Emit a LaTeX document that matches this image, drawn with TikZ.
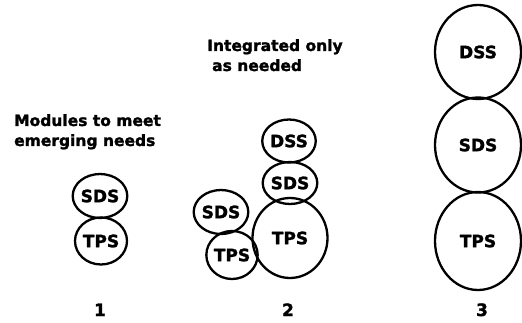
\documentclass[tikz,border=0pt]{standalone}
\usepackage{fontspec}
\setmainfont{DejaVu Sans}
\newfontfamily\heavyfont[FakeBold=1.6]{DejaVu Sans Bold}
\usetikzlibrary{shapes.geometric}
\tikzset{
  module/.style={draw=black, line width=2.3pt, ellipse, inner sep=0pt,
    font=\heavyfont\fontsize{17}{18}\selectfont},
  caption/.style={anchor=base west, inner sep=0pt,
    font=\heavyfont\fontsize{15.5}{18}\selectfont},
  stage/.style={anchor=base, inner sep=0pt,
    font=\heavyfont\fontsize{17}{20}\selectfont}
}
\begin{document}
\begin{tikzpicture}[x=1pt, y=-1pt]
\useasboundingbox (0,0) rectangle (522,323);

% stage 1: a single stack of two modules
\node[caption] (c1a) at (14,126) {Modules to meet};
\node[caption] (c1b) at (14,146) {emerging needs};
\node[module, minimum width=49pt, minimum height=44pt] (s1sds) at (100,196) {SDS};
\node[module, minimum width=52pt, minimum height=47pt] (s1tps) at (101,241) {TPS};
\node[stage] (n1) at (100,316) {1};

% stage 2: modules integrated only where needed
\node[caption] (c2a) at (207,51) {Integrated only};
\node[caption] (c2b) at (212,71) {as needed};
\node[module, minimum width=48pt, minimum height=43pt] (s2dss) at (289,141) {DSS};
\node[module, minimum width=50pt, minimum height=42pt] (s2sds) at (290,183) {SDS};
\node[module, minimum width=75pt, minimum height=80pt] (s2tps) at (290,238) {TPS};
\node[module, minimum width=52pt, minimum height=44pt] (s2sdsb) at (221,212) {SDS};
\node[module, minimum width=51pt, minimum height=48pt] (s2tpsb) at (232,255) {TPS};
\node[stage] (n2) at (288,316) {2};

% stage 3: fully integrated stack
\node[module, minimum width=86pt, minimum height=94pt] (s3dss) at (478,52) {DSS};
\node[module, minimum width=86pt, minimum height=95pt] (s3sds) at (478,145) {SDS};
\node[module, minimum width=86pt, minimum height=98pt] (s3tps) at (478,241) {TPS};
\node[stage] (n3) at (482,316) {3};
\end{tikzpicture}
\end{document}
